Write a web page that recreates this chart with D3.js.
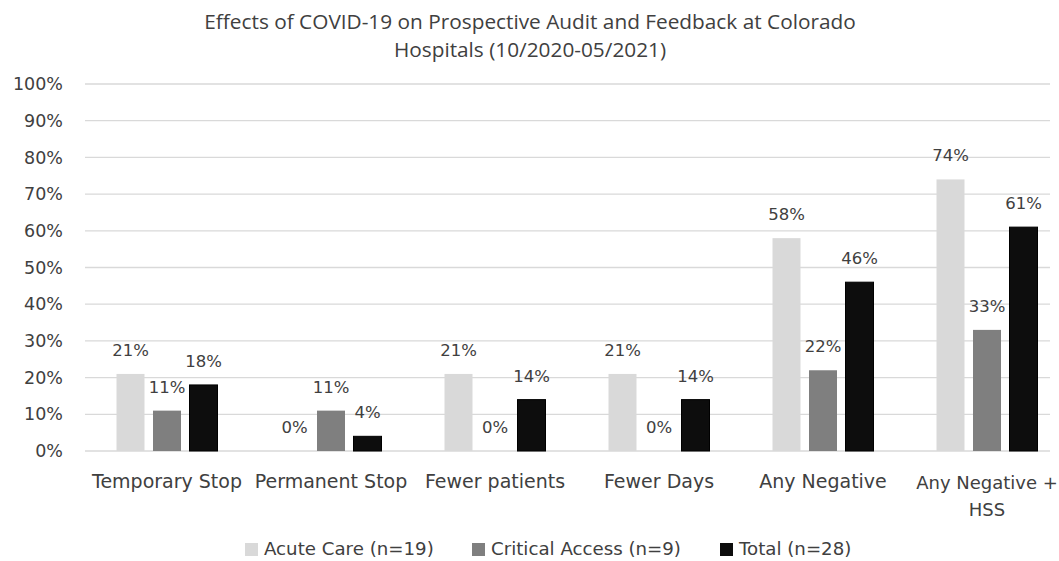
<!DOCTYPE html>
<html>
<head>
<meta charset="utf-8">
<script src="https://cdn.jsdelivr.net/npm/d3@7"></script>
<style>
  body { margin: 0; background: #fff; }
  text { fill: #404040; }
</style>
</head>
<body>
<div id="chart"></div>
<script>
// Chart data
const categories = ["Temporary Stop", "Permanent Stop", "Fewer patients", "Fewer Days", "Any Negative", "Any Negative + HSS"];
const seriesNames = ["Acute Care (n=19)", "Critical Access (n=9)", "Total (n=28)"];
const acuteCare = [21, 0, 21, 21, 58, 74];
const criticalAccess = [11, 11, 0, 0, 22, 33];
const total = [18, 4, 14, 14, 46, 61];
const yTicks = [0, 10, 20, 30, 40, 50, 60, 70, 80, 90, 100];

const W = 1059, H = 561;
const margin = { top: 84, right: 9, bottom: 110, left: 85 };
const width = W - margin.left - margin.right;
const height = H - margin.top - margin.bottom;

const colors = ["#d9d9d9", "#7f7f7f", "#0d0d0d"];
const axisFont = "'DejaVu Sans', Verdana, sans-serif";

const svg = d3.select("#chart")
    .append("svg")
    .attr("width", W)
    .attr("height", H);

// Title
const title = svg.append("text")
    .attr("text-anchor", "middle")
    .attr("font-family", "'Open Sans', sans-serif")
    .attr("font-size", "20.8px")
    .attr("fill", "#595959");
title.append("tspan").attr("x", 530).attr("y", 29)
    .text("Effects of COVID-19 on Prospective Audit and Feedback at Colorado");
title.append("tspan").attr("x", 530).attr("y", 57)
    .text("Hospitals (10/2020-05/2021)");

const g = svg.append("g")
    .attr("transform", `translate(${margin.left},${margin.top})`);

// category bands run a little past the right end of the gridlines
const x = d3.scaleBand()
    .domain(categories)
    .range([0, 984]);

const y = d3.scaleLinear()
    .domain([0, 100])
    .range([height, 0]);

// Grid lines
g.append("g")
    .selectAll("line")
    .data(yTicks)
    .enter()
    .append("line")
    .attr("x1", 0)
    .attr("x2", width)
    .attr("y1", d => y(d))
    .attr("y2", d => y(d))
    .attr("stroke", "#d9d9d9")
    .attr("stroke-width", 1.3);

// Y axis labels
const yAxis = g.append("g")
    .call(d3.axisLeft(y).tickValues(yTicks).tickFormat(d => d + "%").tickSize(0).tickPadding(22));
yAxis.select(".domain").remove();
yAxis.selectAll("text")
    .attr("font-family", axisFont)
    .attr("font-size", "17.5px")
    .attr("fill", "#595959");

// X axis labels
const xAxis = g.append("g")
    .attr("transform", `translate(0,${height})`)
    .call(d3.axisBottom(x).tickSize(0).tickPadding(24));
xAxis.select(".domain").remove();
xAxis.selectAll("text")
    .attr("font-family", axisFont)
    .attr("font-size", "19px")
    .attr("fill", "#595959")
    .each(function (d) {
        if (d === "Any Negative + HSS") {
            // wrapped label, a bit tighter so it stays inside the frame
            const t = d3.select(this);
            t.text(null).attr("font-size", "18px");
            t.append("tspan").attr("x", 0).attr("dy", "0.75em").text("Any Negative +");
            t.append("tspan").attr("x", 0).attr("dy", "1.55em").text("HSS");
            t.attr("dy", null);
        }
    });

// Bars
const series = [acuteCare, criticalAccess, total];
const barW = 28, barGap = 8.5;
const xSub = d3.scaleLinear()
    .domain([0, 2])
    .range([-(barW + barGap), barW + barGap]);

const rows = [];
categories.forEach((c, i) => {
    series.forEach((s, j) => rows.push({ cat: c, k: j, value: s[i] }));
});

g.append("g")
    .selectAll("rect")
    .data(rows)
    .enter()
    .append("rect")
    .attr("x", d => x(d.cat) + x.bandwidth() / 2 + xSub(d.k) - barW / 2)
    .attr("y", d => y(d.value))
    .attr("width", barW)
    .attr("height", d => height - y(d.value))
    .attr("fill", d => colors[d.k])
    .attr("stroke", d => d.k === 2 ? "#000" : "none")
    .attr("stroke-width", d => d.k === 2 ? 1 : 0);

// Data labels
g.append("g")
    .selectAll("text")
    .data(rows)
    .enter()
    .append("text")
    .attr("x", d => x(d.cat) + x.bandwidth() / 2 + xSub(d.k))
    .attr("y", d => y(d.value) - 18)
    .attr("text-anchor", "middle")
    .attr("font-family", axisFont)
    .attr("font-size", "16.5px")
    .text(d => d.value + "%");

// Legend
const legendX = [245, 472, 720];
const legend = svg.append("g")
    .attr("transform", "translate(0,555)");
const items = legend.selectAll("g")
    .data(seriesNames)
    .enter()
    .append("g")
    .attr("transform", (d, i) => `translate(${legendX[i]},0)`);
items.append("rect")
    .attr("x", 0)
    .attr("y", -12)
    .attr("width", 13)
    .attr("height", 13)
    .attr("fill", (d, i) => colors[i]);
items.append("text")
    .attr("x", 19)
    .attr("y", 0)
    .attr("font-family", axisFont)
    .attr("font-size", "18.2px")
    .attr("fill", "#595959")
    .text(d => d);
</script>
</body>
</html>
